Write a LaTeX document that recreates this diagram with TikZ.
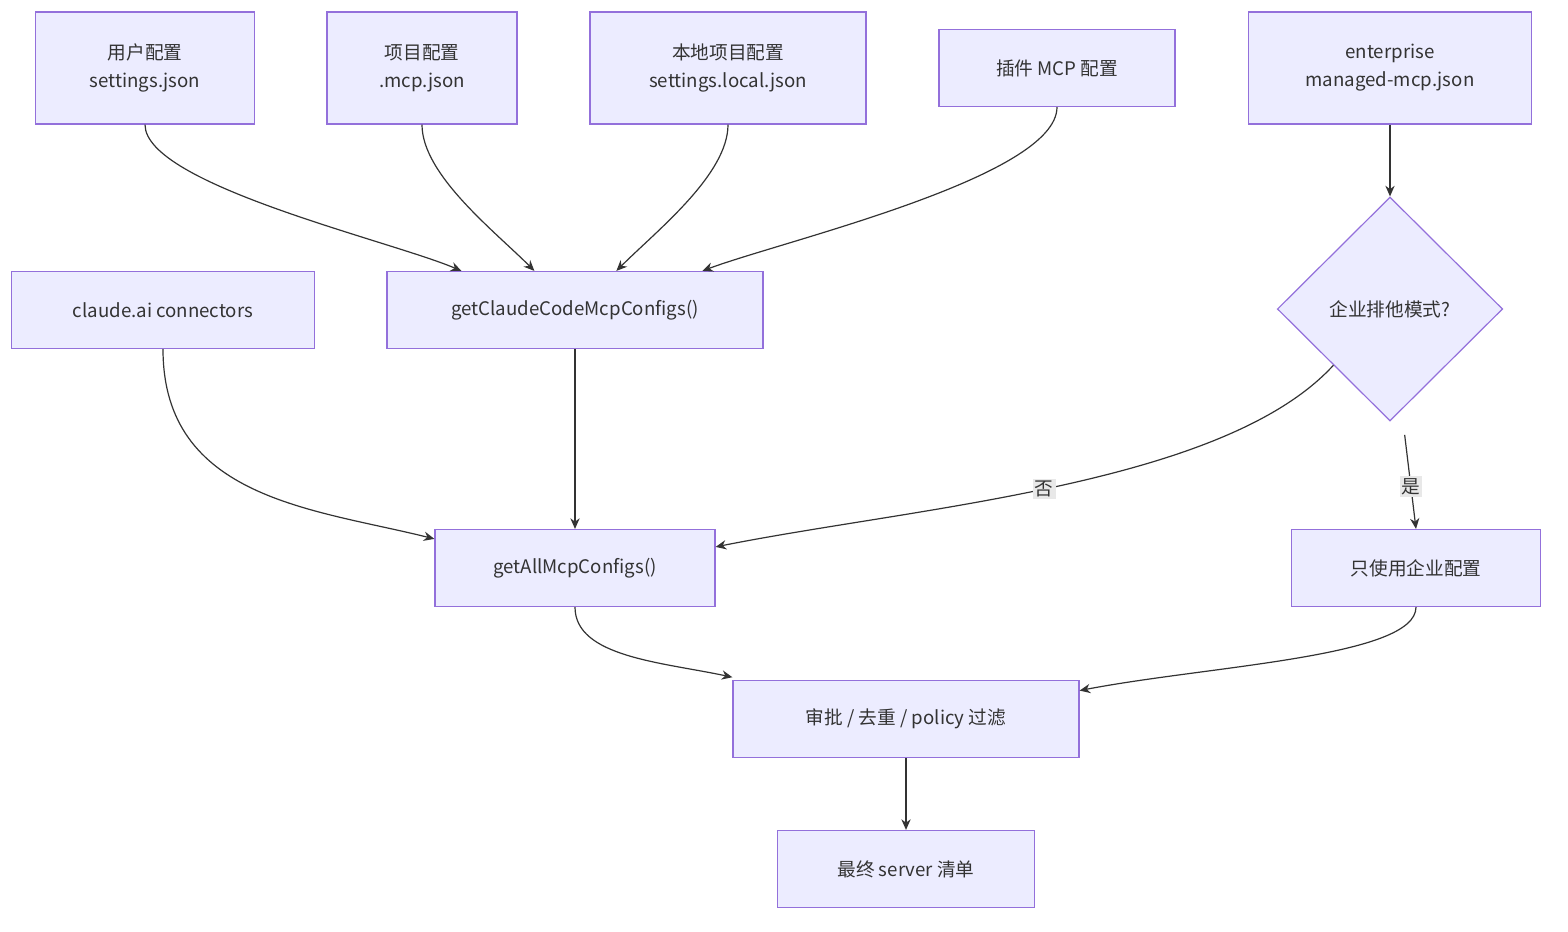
\documentclass[tikz,border=0pt]{standalone}
\usepackage{fontspec}
\setmainfont{Noto Sans CJK SC}
\usetikzlibrary{shapes.geometric,arrows.meta}
\begin{document}
\begin{tikzpicture}[x=0.75pt,y=-0.75pt,
  box/.style={draw=mmstroke,fill=mmfill,line width=0.9pt,align=center,inner sep=0pt,font=\fontsize{14}{21}\selectfont,text=black!80},
  edge/.style={draw=black!80,line width=0.9pt,-{Stealth[length=8pt,width=7pt]}},
  lbl/.style={fill=black!9,inner sep=1.5pt,font=\fontsize{14}{17}\selectfont,text=black!80}]
\definecolor{mmfill}{HTML}{ECECFF}
\definecolor{mmstroke}{HTML}{9370DB}
\useasboundingbox (0,0) rectangle (1568,932);
\node[box,minimum width=164pt,minimum height=84pt] (user) at (145,68) {用户配置\\settings.json};
\node[box,minimum width=142.5pt,minimum height=84pt] (proj) at (422,68) {项目配置\\.mcp.json};
\node[box,minimum width=207pt,minimum height=84pt] (local) at (728,68) {本地项目配置\\settings.local.json};
\node[box,minimum width=177pt,minimum height=57.75pt] (plugin) at (1057,68) {插件 MCP 配置};
\node[box,minimum width=212pt,minimum height=84pt] (ent) at (1390,68) {enterprise\\managed-mcp.json};
\node[box,minimum width=227pt,minimum height=57.75pt] (claude) at (163,310) {claude.ai connectors};
\node[box,minimum width=282pt,minimum height=57.75pt] (getcc) at (575,310) {getClaudeCodeMcpConfigs()};
\node[box,shape=diamond,minimum width=169pt,minimum height=168pt] (dia) at (1390,309) {企业排他模式?};
\node[box,minimum width=210pt,minimum height=57.75pt] (getall) at (575,568) {getAllMcpConfigs()};
\node[box,minimum width=187pt,minimum height=57.75pt] (only) at (1416,568) {只使用企业配置};
\node[box,minimum width=259.5pt,minimum height=57.75pt] (filter) at (906,719) {审批 / 去重 / policy 过滤};
\node[box,minimum width=193pt,minimum height=57.75pt] (final) at (906,869) {最终 server 清单};

\draw[edge] (user.south) .. controls +(0,60) and +(-70,-30) .. ([xshift=56.25pt]getcc.north west);
\draw[edge] (proj.south) .. controls +(0,50) and +(-40,-40) .. ([xshift=111pt]getcc.north west);
\draw[edge] (local.south) .. controls +(0,50) and +(40,-40) .. ([xshift=172.5pt]getcc.north west);
\draw[edge] (plugin.south) .. controls +(0,70) and +(80,-30) .. ([xshift=237pt]getcc.north west);
\draw[edge] (ent) -- (dia);
\draw[edge] (claude.south) .. controls +(0,150) and +(-120,-30) .. ([yshift=-7.5pt]getall.north west);
\draw[edge] (getcc) -- (getall);
\draw[edge] (dia.south west) .. controls +(-110,120) and +(200,-40) .. node[lbl,pos=0.52]{否} ([yshift=-13.5pt]getall.north east);
\draw[edge] ([xshift=11pt,yshift=-10pt]dia.south) -- node[lbl,pos=0.55]{是} (only.north);
\draw[edge] (getall.south) .. controls +(0,50) and +(-70,-15) .. ([yshift=2pt]filter.north west);
\draw[edge] (only.south) .. controls +(0,50) and +(130,-25) .. ([yshift=-8pt]filter.north east);
\draw[edge] (filter) -- (final);
\end{tikzpicture}
\end{document}
